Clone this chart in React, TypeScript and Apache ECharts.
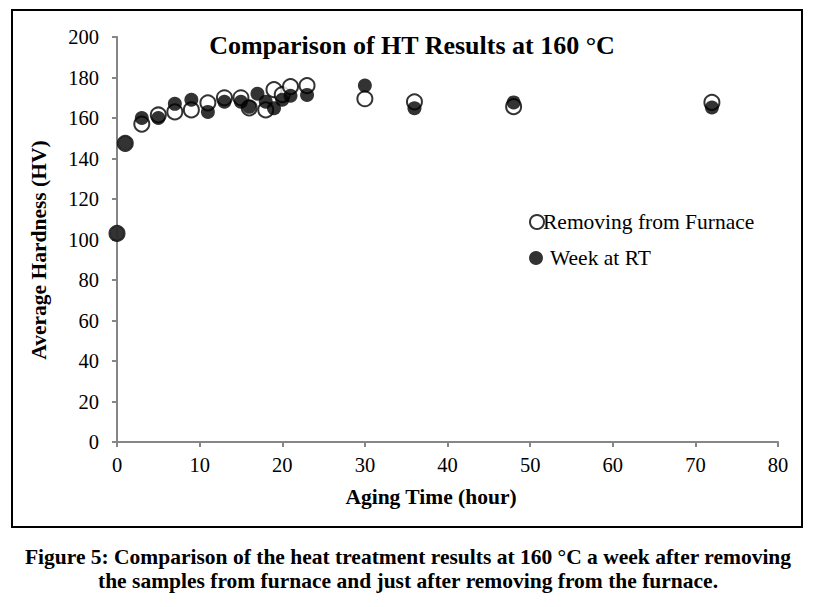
import React, { useEffect, useRef } from "react";
import * as echarts from "echarts";

const agingTimeRemoving: number[] = [0, 1, 3, 5, 7, 9, 11, 13, 15, 16, 18, 19, 20, 21, 23, 30, 36, 48, 72];
const hardnessRemoving: number[] = [103, 147.5, 157, 161.5, 163, 164, 167.5, 170, 170, 165, 164, 174, 171.5, 175.5, 176, 169.5, 168, 165.6, 167.7];
const agingTimeWeek: number[] = [0, 1, 3, 5, 7, 9, 11, 13, 15, 16, 17, 18, 19, 20, 21, 23, 30, 36, 48, 72];
const hardnessWeek: number[] = [103, 147.5, 160, 160, 167, 169, 163, 168, 168, 165.5, 172, 168, 164.8, 169, 171, 171.4, 176, 164.8, 167.7, 165.2];
const xTicks = { min: 0, max: 80, interval: 10 };
const yTicks = { min: 0, max: 200, interval: 20 };

const FONT = "'Liberation Serif', 'Times New Roman', serif";

export default function App() {
  const ref = useRef<HTMLDivElement>(null);
  useEffect(() => {
    if (!ref.current) return;
    const chart = echarts.init(ref.current, null, { renderer: "svg" });
    const axisLine = { show: true, lineStyle: { color: "#868686", width: 2 } };
    const legendText = { fontFamily: FONT, fontSize: 21.5, color: "#000" };
    const boldText = { fontFamily: FONT, fontSize: 21.5, fontWeight: "bold", fill: "#000", align: "center", verticalAlign: "middle" };
    chart.setOption({
      animation: false,
      backgroundColor: "#ffffff",
      title: {
        text: "Comparison of HT Results at 160 °C",
        left: 407,
        top: 27,
        textAlign: "center",
        textStyle: { fontFamily: FONT, fontSize: 26, fontWeight: "bold", color: "#000" },
      },
      grid: { left: 117, right: 36, top: 37, bottom: 165 },
      legend: [
        {
          orient: "vertical",
          left: 524,
          top: 206,
          itemWidth: 14,
          itemHeight: 14,
          itemGap: 5,
          icon: "circle",
          textStyle: { ...legendText, padding: [0, 0, 0, -6] },
          data: ["Removing from Furnace"],
        },
        {
          orient: "vertical",
          left: 524,
          top: 242,
          itemWidth: 14,
          itemHeight: 14,
          itemGap: 5,
          icon: "circle",
          textStyle: { ...legendText, padding: [0, 0, 0, 2] },
          data: ["Week at RT"],
        },
      ],
      xAxis: {
        type: "value",
        min: xTicks.min,
        max: xTicks.max,
        interval: xTicks.interval,
        axisLine,
        axisTick: { show: true, length: 5, lineStyle: { color: "#868686", width: 2 } },
        axisLabel: { fontFamily: FONT, fontSize: 20.5, color: "#000", margin: 12 },
        splitLine: { show: false },
      },
      yAxis: {
        type: "value",
        min: yTicks.min,
        max: yTicks.max,
        interval: yTicks.interval,
        axisLine,
        axisTick: { show: true, length: 5, lineStyle: { color: "#868686", width: 2 } },
        axisLabel: { fontFamily: FONT, fontSize: 20.5, color: "#000", margin: 18 },
        splitLine: { show: false },
      },
      series: [
        {
          name: "Removing from Furnace",
          type: "scatter",
          symbol: "circle",
          symbolSize: 15,
          itemStyle: { color: "#ffffff", borderColor: "#000000", borderWidth: 2 },
          data: agingTimeRemoving.map((x, i) => [x, hardnessRemoving[i]]),
          z: 2,
        },
        {
          name: "Week at RT",
          type: "scatter",
          symbol: "circle",
          symbolSize: 14,
          itemStyle: { color: "#000000", borderWidth: 0 },
          data: agingTimeWeek.map((x, i) => [x, hardnessWeek[i]]),
          z: 3,
        },
      ],
      graphic: [
        {
          type: "rect",
          shape: { x: 12, y: 10, width: 790, height: 517 },
          style: { fill: "none", stroke: "#000", lineWidth: 2 },
          silent: true,
        },
        {
          type: "text",
          x: 431,
          y: 497,
          style: { ...boldText, text: "Aging Time (hour)" },
        },
        {
          type: "text",
          x: 39,
          y: 250,
          rotation: Math.PI / 2,
          style: { ...boldText, text: "Average Hardness (HV)" },
        },
        {
          type: "text",
          x: 408,
          y: 557,
          style: { ...boldText, text: "Figure 5: Comparison of the heat treatment results at 160 °C a week after removing" },
        },
        {
          type: "text",
          x: 408,
          y: 581,
          style: { ...boldText, text: "the samples from furnace and just after removing from the furnace." },
        },
      ],
    });
    return () => chart.dispose();
  }, []);
  return (
    <div
      ref={ref}
      style={{ position: "fixed", left: 0, top: 0, width: 814, height: 607, background: "#fff" }}
    />
  );
}
